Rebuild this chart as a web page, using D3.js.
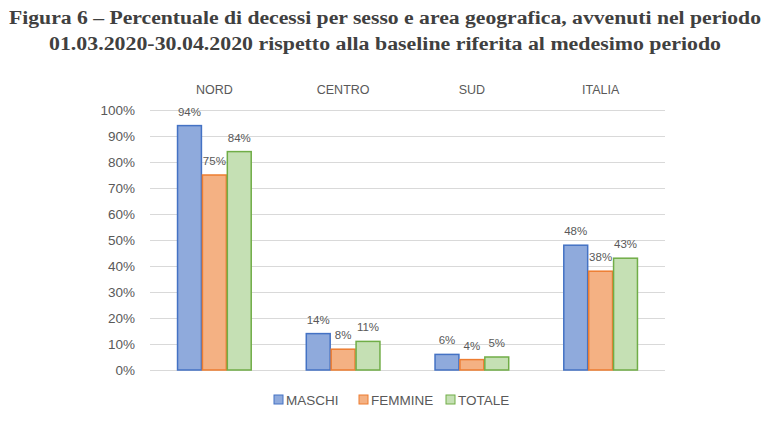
<!DOCTYPE html>
<html>
<head>
<meta charset="utf-8">
<script src="https://cdn.jsdelivr.net/npm/d3@7"></script>
<style>
  body { margin: 0; background: #fff; }
  svg { display: block; }
</style>
</head>
<body>
<svg id="chart" width="767" height="437"></svg>
<script>
// data
const areas = ['NORD', 'CENTRO', 'SUD', 'ITALIA']
const seriesNames = ['MASCHI', 'FEMMINE', 'TOTALE']
const maschi = [94, 14, 6, 48]
const femmine = [75, 8, 4, 38]
const totale = [84, 11, 5, 43]
const yTicks = [0, 10, 20, 30, 40, 50, 60, 70, 80, 90, 100]

const fills = ['#8FAADC', '#F4B183', '#C5E0B4']
const strokes = ['#4472C4', '#ED7D31', '#70AD47']

const svg = d3.select('#chart')

// title
const title = svg.append('g')
  .attr('font-family', 'Liberation Serif, serif')
  .attr('font-weight', 'bold')
  .attr('font-size', 18)
  .attr('fill', '#404040')
  .attr('text-anchor', 'middle')
title.append('text').attr('x', 385).attr('y', 24)
  .attr('textLength', 752).attr('lengthAdjust', 'spacingAndGlyphs')
  .text('Figura 6 – Percentuale di decessi per sesso e area geografica, avvenuti nel periodo')
title.append('text').attr('x', 385).attr('y', 50)
  .attr('textLength', 672).attr('lengthAdjust', 'spacingAndGlyphs')
  .text('01.03.2020-30.04.2020 rispetto alla baseline riferita al medesimo periodo')

const margin = {left: 150, right: 102, top: 110, bottom: 67}
const width = 767 - margin.left - margin.right
const height = 437 - margin.top - margin.bottom

const chart = svg.append('g')
  .attr('transform', `translate(${margin.left},${margin.top})`)

const x = d3.scaleBand().domain(areas).range([0, width]).paddingInner(0.42).paddingOuter(0.21)
const xs = d3.scaleBand().domain(seriesNames).range([0, x.bandwidth()])
const y = d3.scaleLinear().domain([0, 100]).range([height, 0])

// gridlines + y labels
const yAxis = d3.axisLeft(y).tickValues(yTicks).tickFormat(d => d + '%').tickSize(-width).tickPadding(15)
chart.append('g').call(yAxis)
  .call(g => g.select('.domain').remove())
  .call(g => g.selectAll('.tick line').attr('stroke', '#d9d9d9'))
  .call(g => g.selectAll('.tick text')
    .attr('fill', '#595959').attr('font-size', 13.5)
    .attr('font-family', 'Liberation Sans, Arial, sans-serif'))

// category labels on top
const xAxis = d3.axisTop(x).tickSize(0).tickPadding(16)
chart.append('g').call(xAxis)
  .call(g => g.select('.domain').remove())
  .call(g => g.selectAll('.tick text')
    .attr('fill', '#595959').attr('font-size', 12.5)
    .attr('font-family', 'Liberation Sans, Arial, sans-serif'))

const rows = areas.map((a, i) => ({area: a, values: [maschi[i], femmine[i], totale[i]]}))

const groups = chart.selectAll('.grp')
  .data(rows)
  .join('g')
  .attr('class', 'grp')
  .attr('transform', d => `translate(${x(d.area)},0)`)

groups.selectAll('rect')
  .data(d => d.values.map((v, j) => ({s: seriesNames[j], v, j})))
  .join('rect')
  .attr('x', d => xs(d.s) + 0.5)
  .attr('y', d => y(d.v))
  .attr('width', xs.bandwidth() - 1)
  .attr('height', d => height - y(d.v))
  .attr('fill', d => fills[d.j])
  .attr('stroke', d => strokes[d.j])
  .attr('stroke-width', 1.5)

groups.selectAll('.lbl')
  .data(d => d.values.map((v, j) => ({s: seriesNames[j], v, j})))
  .join('text')
  .attr('class', 'lbl')
  .attr('x', d => xs(d.s) + xs.bandwidth() / 2)
  .attr('y', d => y(d.v) - 10)
  .attr('text-anchor', 'middle')
  .attr('font-size', 11.5)
  .attr('font-family', 'Liberation Sans, Arial, sans-serif')
  .attr('fill', '#595959')
  .text(d => d.v + '%')

// legend
const legX = [274, 359, 446]
const legend = svg.append('g').attr('transform', 'translate(0,400)')
seriesNames.forEach((s, i) => {
  legend.append('rect')
    .attr('x', legX[i]).attr('y', -5).attr('width', 9).attr('height', 9)
    .attr('fill', fills[i]).attr('stroke', strokes[i]).attr('stroke-width', 1)
  legend.append('text')
    .attr('x', legX[i] + 12).attr('y', 0).attr('dy', '0.35em')
    .attr('font-size', 13.5)
    .attr('font-family', 'Liberation Sans, Arial, sans-serif')
    .attr('fill', '#595959')
    .text(s)
})
</script>
</body>
</html>
